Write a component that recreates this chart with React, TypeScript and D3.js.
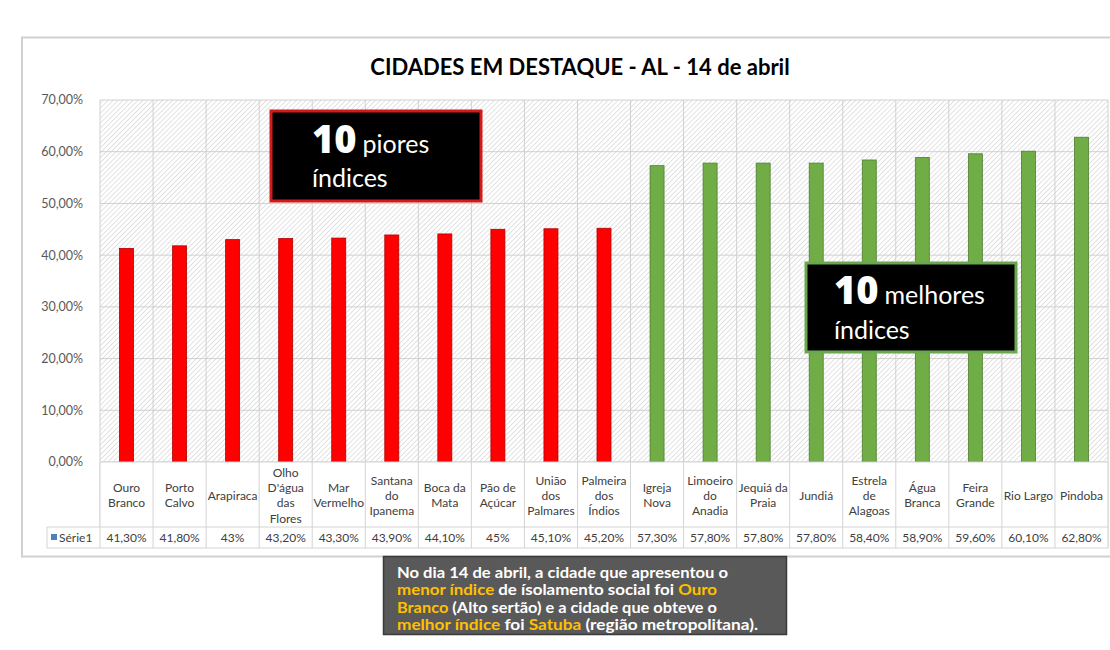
import React from "react";
import * as d3 from "d3";

const categories: string[][] = [
  ["Ouro", "Branco"],
  ["Porto", "Calvo"],
  ["Arapiraca"],
  ["Olho", "D'água", "das", "Flores"],
  ["Mar", "Vermelho"],
  ["Santana", "do", "Ipanema"],
  ["Boca da", "Mata"],
  ["Pão de", "Açúcar"],
  ["União", "dos", "Palmares"],
  ["Palmeira", "dos", "Índios"],
  ["Igreja", "Nova"],
  ["Limoeiro", "do", "Anadia"],
  ["Jequiá da", "Praia"],
  ["Jundiá"],
  ["Estrela", "de", "Alagoas"],
  ["Água", "Branca"],
  ["Feira", "Grande"],
  ["Rio Largo"],
  ["Pindoba"],
];
const values: number[] = [41.3, 41.8, 43, 43.2, 43.3, 43.9, 44.1, 45, 45.1, 45.2, 57.3, 57.8, 57.8, 57.8, 58.4, 58.9, 59.6, 60.1, 62.8];
const valueLabels: string[] = ["41,30%", "41,80%", "43%", "43,20%", "43,30%", "43,90%", "44,10%", "45%", "45,10%", "45,20%", "57,30%", "57,80%", "57,80%", "57,80%", "58,40%", "58,90%", "59,60%", "60,10%", "62,80%"];
const groups: string[] = ["bad", "bad", "bad", "bad", "bad", "bad", "bad", "bad", "bad", "bad", "good", "good", "good", "good", "good", "good", "good", "good", "good"];
const yTicks: number[] = [0, 10, 20, 30, 40, 50, 60, 70];
const seriesName = "Série1";
const title = "CIDADES EM DESTAQUE - AL - 14 de abril";

const noteLines: { t: string; y?: boolean }[][] = [
  [{ t: "No dia 14 de abril, a cidade que apresentou o" }],
  [{ t: "menor índice", y: true }, { t: " de ísolamento social foi " }, { t: "Ouro", y: true }],
  [{ t: "Branco", y: true }, { t: " (Alto sertão) e a cidade que obteve o" }],
  [{ t: "melhor índice", y: true }, { t: " foi " }, { t: "Satuba", y: true }, { t: " (região metropolitana)." }],
];
const noteWidths = [331, 320, 320, 361];

export default function App() {
  const W = 1110, H = 650;
  const left = 100, right = 1108, top = 100, bottom = 462;
  const catIdx = categories.map((_, i) => String(i));
  const x = d3.scaleBand<string>().domain(catIdx).range([left, right]).padding(0);
  const y = d3.scaleLinear().domain([0, 70]).range([bottom, top]);
  const bw = x.bandwidth();
  const barW = 14;
  const catBottom = 527, dataBottom = 548;
  const font = "Lato, 'Open Sans', sans-serif";
  const colors: Record<string, { fill: string; stroke: string }> = {
    bad: { fill: "#ff0000", stroke: "#b00000" },
    good: { fill: "#70ad47", stroke: "#4e7d31" },
  };

  return (
    <svg width={W} height={H} style={{ position: "absolute", left: 0, top: 0, background: "#fff" }} fontFamily={font}>
      <defs>
        <pattern id="hatch" width="3.5" height="3.5" patternUnits="userSpaceOnUse" patternTransform="rotate(45)">
          <rect width="3.5" height="3.5" fill="#ffffff" />
          <line x1="0" y1="0" x2="0" y2="3.5" stroke="#d6d6d6" strokeWidth="1.4" />
        </pattern>
      </defs>
      <rect x={0} y={0} width={W} height={H} fill="#fff" />
      {/* outer frame */}
      <rect x={22} y={37.5} width={1120} height={519} fill="#fff" stroke="#d0d0d0" strokeWidth={2} />
      <text x={580} y={75} textAnchor="middle" fontSize={22} fontWeight={700} fill="#000" fontFamily={font}>{title}</text>

      {/* plot area */}
      <rect x={left} y={top} width={right - left} height={bottom - top} fill="url(#hatch)" />
      {yTicks.map((t) => (
        <line key={"h" + t} x1={left} x2={right} y1={y(t)} y2={y(t)} stroke="#d0d0d0" strokeWidth={1} />
      ))}
      {catIdx.map((c) => (
        <line key={"v" + c} x1={x(c)!} x2={x(c)!} y1={top} y2={dataBottom} stroke="#d0d0d0" strokeWidth={1} />
      ))}
      <line x1={right} x2={right} y1={top} y2={dataBottom} stroke="#d0d0d0" />
      {yTicks.map((t) => (
        <text key={"yl" + t} x={83} y={y(t)} dy="0.35em" textAnchor="end" fontSize={12.5} fill="#595959">
          {d3.format(".2f")(t).replace(".", ",") + "%"}
        </text>
      ))}

      {/* bars */}
      {values.map((v, i) => (
        <rect
          key={"b" + i}
          x={x(String(i))! + bw / 2 - barW / 2}
          y={y(v)}
          width={barW}
          height={y(0) - y(v)}
          fill={colors[groups[i]].fill}
          stroke={colors[groups[i]].stroke}
          strokeWidth={0.8}
        />
      ))}

      {/* table */}
      <rect x={left} y={bottom} width={right - left} height={catBottom - bottom} fill="#fff" />
      <rect x={47} y={catBottom} width={right - 47} height={dataBottom - catBottom} fill="#fff" />
      <line x1={47} x2={right} y1={catBottom} y2={catBottom} stroke="#d4d4d4" />
      <line x1={47} x2={right} y1={dataBottom} y2={dataBottom} stroke="#d4d4d4" />
      <line x1={47} x2={47} y1={catBottom} y2={dataBottom} stroke="#d4d4d4" />
      {catIdx.map((c) => (
        <line key={"tv" + c} x1={x(c)!} x2={x(c)!} y1={bottom} y2={dataBottom} stroke="#d4d4d4" />
      ))}
      <line x1={right} x2={right} y1={bottom} y2={dataBottom} stroke="#d4d4d4" />
      <line x1={left} x2={right} y1={bottom} y2={bottom} stroke="#d4d4d4" />
      {categories.map((lines, i) => {
        const cx = x(String(i))! + bw / 2;
        const lh = 15.2;
        const cy = (bottom + catBottom) / 2 + 1;
        const y0 = cy - ((lines.length - 1) * lh) / 2;
        return (
          <text key={"c" + i} textAnchor="middle" fontSize={12} fill="#404040">
            {lines.map((l, j) => (
              <tspan key={j} x={cx} y={y0 + j * lh} dy="0.35em">{l}</tspan>
            ))}
          </text>
        );
      })}
      <rect x={51} y={534} width={6} height={6} fill="#4f81bd" />
      <text x={59} y={537.5} dy="0.35em" fontSize={12} fill="#404040">{seriesName}</text>
      {valueLabels.map((l, i) => (
        <text key={"vl" + i} x={x(String(i))! + bw / 2} y={537.5} dy="0.35em" textAnchor="middle" fontSize={12} fill="#404040">{l}</text>
      ))}

      {/* annotation boxes */}
      <rect x={271} y={111} width={210} height={90} fill="#000" stroke="#d21a1a" strokeWidth={3} />
      <text x={312} y={153} fill="#fff" fontSize={25}>
        <tspan fontSize={38} fontWeight={800} fontFamily="'Open Sans', Lato, sans-serif">10</tspan>
        <tspan dx={6}>piores</tspan>
      </text>
      <text x={312} y={187} fill="#fff" fontSize={25}>índices</text>

      <rect x={806} y={263} width={210} height={89} fill="#000" stroke="#6aa84f" strokeWidth={3} />
      <text x={834} y={304} fill="#fff" fontSize={25}>
        <tspan fontSize={38} fontWeight={800} fontFamily="'Open Sans', Lato, sans-serif">10</tspan>
        <tspan dx={6}>melhores</tspan>
      </text>
      <text x={834} y={339} fill="#fff" fontSize={25}>índices</text>

      {/* note box */}
      <rect x={383.5} y={556.5} width={403} height={78} fill="#595959" stroke="#3a3a3a" strokeWidth={1.5} />
      {noteLines.map((line, i) => (
        <text key={"n" + i} x={397} y={578 + i * 17.3} fontSize={15.5} fontWeight={700} fill="#fff"
          textLength={noteWidths[i]} lengthAdjust="spacingAndGlyphs">
          {line.map((s, j) => (
            <tspan key={j} fill={s.y ? "#ffc000" : "#fff"}>{s.t}</tspan>
          ))}
        </text>
      ))}
    </svg>
  );
}
